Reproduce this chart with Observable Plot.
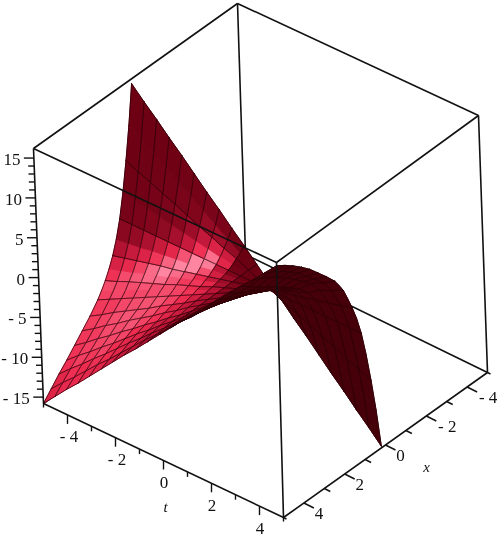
<!DOCTYPE html>
<html>
<head>
<meta charset="utf-8">
<script src="https://cdn.jsdelivr.net/npm/d3@7"></script>
<script src="https://cdn.jsdelivr.net/npm/@observablehq/plot@0.6"></script>
<style>html,body{margin:0;padding:0;background:#fff}svg{display:block}</style>
</head>
<body>
<div id="chart"></div>
<script>
// mesh positions of the surface
const tMesh = [-5,-4.5,-4,-3.5,-3,-2.5,-2,-1.5,-1,-0.5,0,0.5,1,1.5,2,2.5,3,3.5,4,4.5,5];
const xMesh = [0.2,0.4,0.6,0.8,1,1.2,1.4,1.6,1.8,2,2.2,2.6,3,3.4,3.8,4.2,4.6,5];
// the x values that carry a drawn grid line
const xGrid = [0.2,0.6,1,1.4,1.8,2.2,2.6,3,3.4,3.8,4.2,4.6,5];
// surface height: one row per tMesh value, one column per xMesh value
const zRows = [
[15.6,10.7,6.6,3,0,-2.2,-3.9,-5.2,-6.3,-7.2,-8,-9.3,-10.4,-11.5,-12.6,-13.6,-14.7,-15.8],
[14,9.6,5.9,2.7,0,-2,-3.5,-4.7,-5.7,-6.5,-7.2,-8.4,-9.4,-10.4,-11.3,-12.2,-13.2,-14.2],
[12.5,8.6,5.3,2.4,0,-1.8,-3.1,-4.2,-5,-5.8,-6.4,-7.4,-8.3,-9.2,-10.1,-10.9,-11.8,-12.6],
[10.9,7.5,4.6,2.1,0,-1.5,-2.7,-3.6,-4.4,-5,-5.6,-6.5,-7.3,-8.1,-8.8,-9.5,-10.3,-11.1],
[9.4,6.4,4,1.8,0,-1.3,-2.3,-3.1,-3.8,-4.3,-4.8,-5.6,-6.2,-6.9,-7.6,-8.2,-8.8,-9.5],
[7.8,5.4,3.3,1.5,0,-1.1,-2,-2.6,-3.2,-3.6,-4,-4.7,-5.2,-5.8,-6.3,-6.8,-7.4,-7.9],
[6.2,4.3,2.6,1.2,0,-0.9,-1.6,-2.1,-2.5,-2.9,-3.2,-3.7,-4.2,-4.6,-5,-5.4,-5.9,-6.3],
[4.7,3.2,2,0.9,0,-0.7,-1.2,-1.6,-1.9,-2.2,-2.4,-2.8,-3.1,-3.5,-3.8,-4.1,-4.4,-4.7],
[3.1,2.1,1.3,0.6,0,-0.4,-0.8,-1,-1.3,-1.4,-1.6,-1.9,-2.1,-2.3,-2.5,-2.7,-2.9,-3.2],
[1.6,1.1,0.7,0.3,0,-0.2,-0.4,-0.5,-0.6,-0.7,-0.8,-0.9,-1,-1.2,-1.3,-1.4,-1.5,-1.6],
[0,0,0,0,0,0,0,0,0,0,0,0,0,0,0,0,0,0],
[-1.6,-1.1,-0.7,-0.3,0,0.2,0.4,0.5,0.6,0.7,0.8,0.9,1,1.2,1.3,1.4,1.5,1.6],
[-3.1,-2.1,-1.3,-0.6,0,0.4,0.8,1,1.3,1.4,1.6,1.9,2.1,2.3,2.5,2.7,2.9,3.2],
[-4.7,-3.2,-2,-0.9,0,0.7,1.2,1.6,1.9,2.2,2.4,2.8,3.1,3.5,3.8,4.1,4.4,4.7],
[-6.2,-4.3,-2.6,-1.2,0,0.9,1.6,2.1,2.5,2.9,3.2,3.7,4.2,4.6,5,5.4,5.9,6.3],
[-7.8,-5.4,-3.3,-1.5,0,1.1,2,2.6,3.2,3.6,4,4.7,5.2,5.8,6.3,6.8,7.4,7.9],
[-9.4,-6.4,-4,-1.8,0,1.3,2.3,3.1,3.8,4.3,4.8,5.6,6.2,6.9,7.6,8.2,8.8,9.5],
[-10.9,-7.5,-4.6,-2.1,0,1.5,2.7,3.6,4.4,5,5.6,6.5,7.3,8.1,8.8,9.5,10.3,11.1],
[-12.5,-8.6,-5.3,-2.4,0,1.8,3.1,4.3,5.4,6.2,7,8,9,9.9,10.7,11.4,12.1,12.6],
[-14,-9.6,-5.9,-2.7,0,2,3.5,4.9,6.1,7,7.8,9,10.1,11.2,12.1,12.9,13.6,14.2],
[-15.6,-10.7,-6.6,-3,0,2.2,3.9,5.4,6.8,7.8,8.7,10,11.2,12.4,13.4,14.3,15.1,15.8]
];
const tRange = [-5, 5];
const xRange = [-5, 5];
const zRange = [-15.8, 16.2];
const tTicks = [-5,-4,-3,-2,-1,0,1,2,3,4,5];
const xTicks = [-5,-4,-3,-2,-1,0,1,2,3,4,5];
const zTicks = d3.range(-15, 16);
const tLabels = [-4,-2,0,2,4];
const xLabels = [-4,-2,0,2,4];
const zLabels = [-15,-10,-5,0,5,10,15];

// camera: where the eight corners of the box land in the view plane
const view = {
  bottom: {tlo_xhi:[43,403], thi_xhi:[283,517], thi_xlo:[487,372], tlo_xlo:[245,254]},
  top:    {tlo_xhi:[33,148], thi_xhi:[276,262], thi_xlo:[478,115], tlo_xlo:[237,3]}
};
const lerp = (a,b,s) => a + (b-a)*s;
function project(t, x, z) {
  const u = (t-tRange[0])/(tRange[1]-tRange[0]);
  const w = (x-xRange[0])/(xRange[1]-xRange[0]);
  const h = (z-zRange[0])/(zRange[1]-zRange[0]);
  const face = f => [0,1].map(k => lerp(lerp(f.tlo_xlo[k],f.thi_xlo[k],u), lerp(f.tlo_xhi[k],f.thi_xhi[k],u), w));
  const a = face(view.bottom), b = face(view.top);
  return {px: lerp(a[0],b[0],h), py: lerp(a[1],b[1],h)};
}
const cube = (t,x,z) => [t/5, x/5, (z-0.2)/16];
const viewDir = [0.54,0.61,0.58];
const light1 = [-0.07,0.74,0.67];
const light2 = [-0.53,0.36,0.77];
const dot = (a,b) => a[0]*b[0]+a[1]*b[1]+a[2]*b[2];
const ramp = d3.scaleLinear()
  .domain([0,0.1,0.3,0.55,0.85])
  .range(["#3c0008","#6a0012","#b81435","#ee2c50","#ff85a0"])
  .clamp(true);
const meshColor = "rgba(40,0,6,0.7)";

const cells = [];
for (let i = 0; i < tMesh.length-1; i++) for (let j = 0; j < xMesh.length-1; j++) {
  const at = (a,b) => [tMesh[a], xMesh[b], zRows[a][b]];
  const c = [at(i,j),at(i+1,j),at(i+1,j+1),at(i,j+1)];
  const q = c.map(p => cube(...p));
  const dT = [0,1,2].map(k => (q[1][k]+q[2][k]-q[0][k]-q[3][k])/2);
  const dX = [0,1,2].map(k => (q[2][k]+q[3][k]-q[0][k]-q[1][k])/2);
  let n = [dT[1]*dX[2]-dT[2]*dX[1], dT[2]*dX[0]-dT[0]*dX[2], dT[0]*dX[1]-dT[1]*dX[0]];
  const len = Math.hypot(...n); n = n.map(d => d/len);
  const nv = dot(n, viewDir);
  const lobes = 0.85*Math.pow(Math.max(0,dot(n,light1)),22) + 0.8*Math.pow(Math.max(0,dot(n,light2)),16);
  const shade = nv > 0 ? 0.1 + lobes*Math.pow(nv,0.4) : 0.02;
  const depth = d3.mean(q, p => dot(p, viewDir));
  cells.push({c, shade, depth, j});
}
cells.sort((a,b) => a.depth-b.depth);
const verts = [];
let gid = 0;
for (const cell of cells) {
  const col = ramp(cell.shade);
  const id = gid++;
  [...cell.c, cell.c[0]].forEach(p => verts.push({id, fill: col, stroke: col, ...project(...p)}));
  const [a,b,c,d] = cell.c;
  const pieces = [[a,d],[b,c]];
  if (xGrid.includes(a[1])) pieces.push([a,b]);
  if (xGrid.includes(d[1])) pieces.push([d,c]);
  for (const piece of pieces) {
    const pid = gid++;
    piece.forEach(p => verts.push({id: pid, fill: "none", stroke: meshColor, ...project(...p)}));
  }
}

const seg = (a,b) => { const p=project(...a), q=project(...b); return {x1:p.px,y1:p.py,x2:q.px,y2:q.py}; };
const tick = (p,dx,dy) => { const s=project(...p); return {x1:s.px,y1:s.py,x2:s.px+dx,y2:s.py+dy}; };
const [T0,T1] = tRange, [X0,X1] = xRange, [Z0,Z1] = zRange;
const backEdges = [
  seg([T0,X0,Z0],[T0,X0,Z1]), seg([T0,X0,Z0],[T1,X0,Z0]), seg([T0,X0,Z0],[T0,X1,Z0]),
  seg([T0,X0,Z1],[T1,X0,Z1]), seg([T0,X0,Z1],[T0,X1,Z1]), seg([T1,X0,Z0],[T1,X0,Z1])
];
const frontEdges = [
  seg([T0,X1,Z1],[T1,X1,Z1]), seg([T1,X0,Z1],[T1,X1,Z1]), seg([T1,X1,Z0],[T1,X1,Z1]),
  seg([T0,X1,Z0],[T0,X1,Z1]), seg([T0,X1,Z0],[T1,X1,Z0]), seg([T1,X0,Z0],[T1,X1,Z0])
];
const tickMarks = [
  ...tTicks.map(t => Math.abs(t)===5 ? tick([t,X1,Z0],0,4) : t%2===0 ? tick([t,X1,Z0],0,9) : tick([t,X1,Z0],0,5)),
  ...xTicks.map(x => Math.abs(x)===5 ? tick([T1,x,Z0],3,1.5) : x%2===0 ? tick([T1,x,Z0],10,5) : tick([T1,x,Z0],6,3)),
  ...zTicks.map(z => z%5===0 ? tick([T0,X1,z],-10,0) : tick([T0,X1,z],-6,0))
];
const text = v => String(v).replace("-","- ");
const shift = (p,dx,dy) => { const s=project(...p); return {px:s.px+dx,py:s.py+dy}; };
const tText = tLabels.map(t => ({text:text(t), ...shift([t,X1,Z0], t<0?1.5:0.5, 22)}));
const xText = xLabels.map(x => ({text:text(x), ...shift([T1,x,Z0], x<0?21:15, 11)}));
const zText = zLabels.map(z => ({text:text(z), ...shift([T0,X1,z], -13.5, 1.5)}));
const names = [
  {text:"t", ...shift([0,X1,Z0], 2, 47)},
  {text:"x", ...shift([T1,0,Z0], 41, 22)}
];
const font = "'Liberation Serif','Times New Roman',serif";

const chart = Plot.plot({
  width: 498, height: 537,
  marginTop: 0, marginRight: 0, marginBottom: 0, marginLeft: 0,
  x: {domain:[0,498], range:[0,498], axis:null},
  y: {domain:[0,537], range:[0,537], axis:null},
  style: {background:"#fff", filter:"blur(0.45px)"},
  marks: [
    Plot.link(backEdges, {x1:"x1",y1:"y1",x2:"x2",y2:"y2",stroke:"#111",strokeWidth:1.6}),
    Plot.line(verts, {x:"px",y:"py",z:"id",fill:{value:"fill",scale:null},stroke:{value:"stroke",scale:null},strokeWidth:1}),
    Plot.link(frontEdges, {x1:"x1",y1:"y1",x2:"x2",y2:"y2",stroke:"#111",strokeWidth:1.6}),
    Plot.link(tickMarks, {x1:"x1",y1:"y1",x2:"x2",y2:"y2",stroke:"#111",strokeWidth:1.4}),
    Plot.text([...tText,...xText], {x:"px",y:"py",text:"text",fontFamily:font,fontSize:17,fill:"#111"}),
    Plot.text(zText, {x:"px",y:"py",text:"text",textAnchor:"end",fontFamily:font,fontSize:17,fill:"#111"}),
    Plot.text(names, {x:"px",y:"py",text:"text",fontFamily:font,fontStyle:"italic",fontSize:15,fill:"#111"})
  ]
});
document.getElementById("chart").append(chart);
</script>
</body>
</html>
